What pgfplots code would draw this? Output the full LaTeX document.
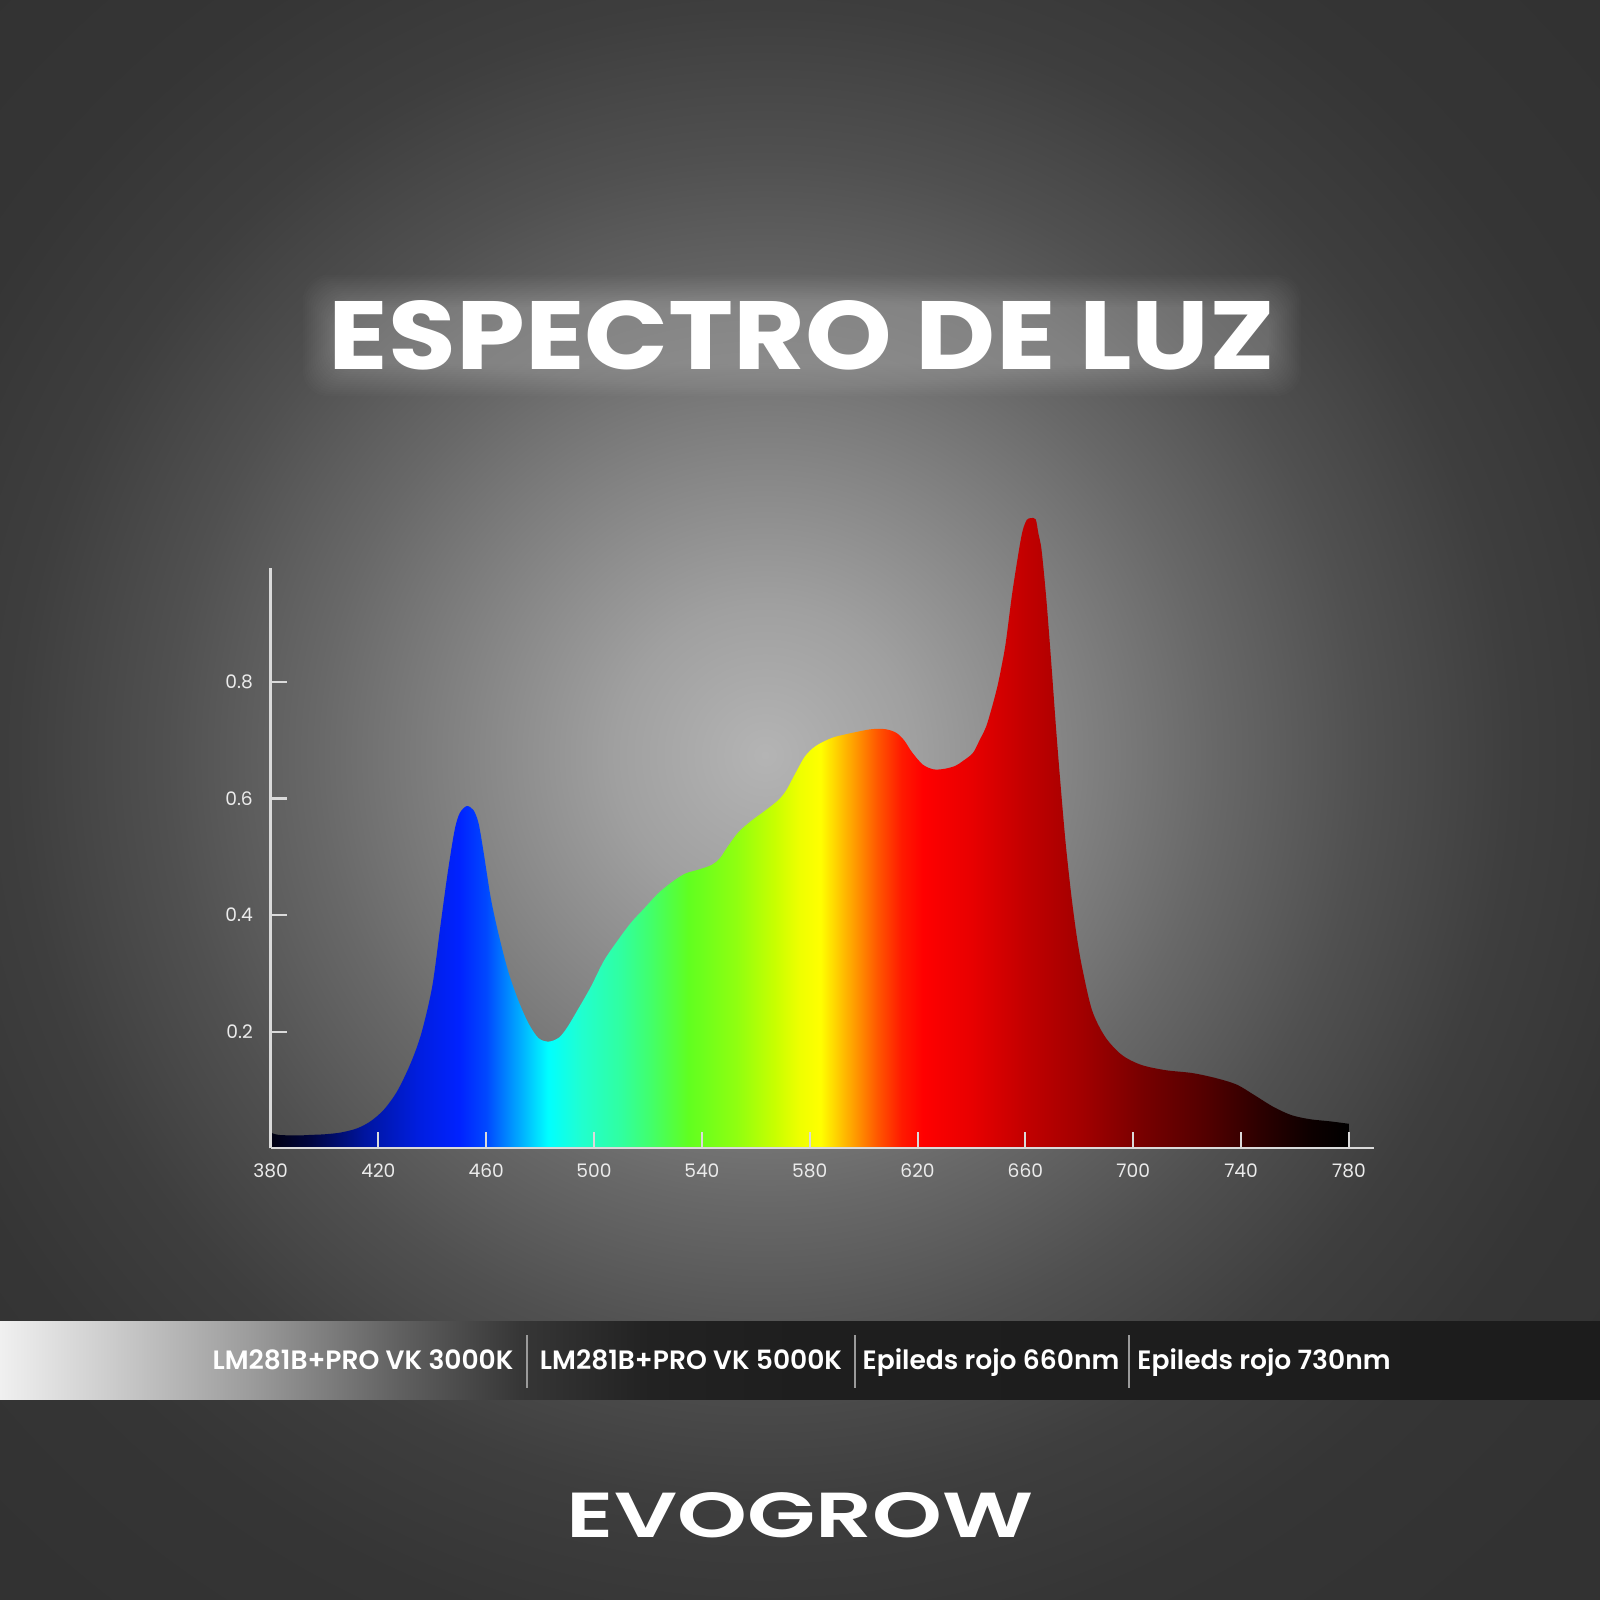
\documentclass[border=0pt]{standalone}
\usepackage{fontspec}
\usepackage{graphicx}
\usepackage{pgfplots}
\pgfplotsset{compat=1.18}
\setmainfont{Poppins}
\IfFontExistsTF{Poppins SemiBold}{\newfontfamily\semifont{Poppins SemiBold}}{\newfontfamily\semifont{Poppins}}
\newfontfamily\titlefont{Poppins Bold}
\IfFontExistsTF{Poppins SemiBold}{\newfontfamily\logofont{Poppins SemiBold}}{\newfontfamily\logofont{Poppins Bold}}

% background
\definecolor{bg0}{HTML}{B4B4B4}
\definecolor{bg1}{HTML}{A0A0A0}
\definecolor{bg2}{HTML}{848484}
\definecolor{bg3}{HTML}{686868}
\definecolor{bg4}{HTML}{505050}
\definecolor{bg5}{HTML}{3E3E3E}
\definecolor{bg6}{HTML}{353535}
\definecolor{bg7}{HTML}{323232}
\pgfdeclareradialshading{bgglow}{\pgfpoint{0bp}{0bp}}{color(0bp)=(bg0); color(3.4bp)=(bg1); color(6.8bp)=(bg2); color(10.2bp)=(bg3); color(13.6bp)=(bg4); color(17bp)=(bg5); color(20.5bp)=(bg6); color(25bp)=(bg7); color(50bp)=(bg7)}

% band under the chart
\definecolor{bd0}{HTML}{F0F0F0}
\definecolor{bd1}{HTML}{D0D0D0}
\definecolor{bd2}{HTML}{9C9C9C}
\definecolor{bd3}{HTML}{606060}
\definecolor{bd4}{HTML}{363636}
\definecolor{bd5}{HTML}{222222}
\definecolor{bd6}{HTML}{1E1E1E}
\definecolor{bd7}{HTML}{1C1C1C}
\pgfdeclarehorizontalshading{band}{100bp}{color(0bp)=(bd0); color(25bp)=(bd0); color(28.1bp)=(bd1); color(32.8bp)=(bd2); color(37.5bp)=(bd3); color(41.25bp)=(bd4); color(45.3bp)=(bd5); color(50bp)=(bd6); color(75bp)=(bd7); color(100bp)=(bd7)}
\definecolor{sepgray}{HTML}{9A9A9A}
\definecolor{axgray}{HTML}{DADADA}

% spectrum colours, position = 25 + (nm-380)/8 bp
\definecolor{s380}{HTML}{000010}
\definecolor{s395}{HTML}{000540}
\definecolor{s415}{HTML}{0015A0}
\definecolor{s435}{HTML}{001EE0}
\definecolor{s450}{HTML}{0022FF}
\definecolor{s460}{HTML}{0048FF}
\definecolor{s470}{HTML}{0098FF}
\definecolor{s478}{HTML}{00D8FF}
\definecolor{s483}{HTML}{00FFFF}
\definecolor{s495}{HTML}{20FFD0}
\definecolor{s510}{HTML}{30FFA0}
\definecolor{s520}{HTML}{40FF70}
\definecolor{s535}{HTML}{60FF20}
\definecolor{s553}{HTML}{90FF10}
\definecolor{s567}{HTML}{C8FF00}
\definecolor{s576}{HTML}{EEFF00}
\definecolor{s584}{HTML}{FFFF00}
\definecolor{s590}{HTML}{FFD000}
\definecolor{s598}{HTML}{FF9000}
\definecolor{s606}{HTML}{FF5000}
\definecolor{s614}{HTML}{FF1A00}
\definecolor{s622}{HTML}{FF0000}
\definecolor{s640}{HTML}{E80000}
\definecolor{s661}{HTML}{C00000}
\definecolor{s682}{HTML}{A00000}
\definecolor{s703}{HTML}{780000}
\definecolor{s727}{HTML}{520000}
\definecolor{s747}{HTML}{2C0000}
\definecolor{s765}{HTML}{0E0000}
\definecolor{s780}{HTML}{000000}
\pgfdeclarehorizontalshading{spectrum}{100bp}{color(0bp)=(s380); color(25bp)=(s380); color(26.875bp)=(s395); color(29.375bp)=(s415); color(31.875bp)=(s435); color(33.75bp)=(s450); color(35bp)=(s460); color(36.25bp)=(s470); color(37.25bp)=(s478); color(37.875bp)=(s483); color(39.375bp)=(s495); color(41.25bp)=(s510); color(42.5bp)=(s520); color(44.375bp)=(s535); color(46.625bp)=(s553); color(48.375bp)=(s567); color(49.5bp)=(s576); color(50.5bp)=(s584); color(51.25bp)=(s590); color(52.25bp)=(s598); color(53.25bp)=(s606); color(54.25bp)=(s614); color(55.25bp)=(s622); color(57.5bp)=(s640); color(60.125bp)=(s661); color(62.75bp)=(s682); color(65.375bp)=(s703); color(68.375bp)=(s727); color(70.875bp)=(s747); color(73.125bp)=(s765); color(75bp)=(s780); color(100bp)=(s780)}

\begin{document}
\begin{tikzpicture}
\useasboundingbox (0,0) rectangle (160mm,160mm);
\fill[bg7] (0,0) rectangle (160mm,160mm);
\begin{scope}
  \clip (0,0) rectangle (160mm,160mm);
  \shade[shading=bgglow] (76.5mm,84.5mm) circle (110mm);
\end{scope}

% soft glow behind the title
\foreach \d in {-0.6,-0.4,...,2.8}{
  \fill[white, opacity=0.016, rounded corners=2.5mm]
    ({32.9mm-\d mm},{123mm-\d mm}) rectangle ({127.5mm+\d mm},{129.9mm+\d mm});
}
\node[inner sep=0pt, anchor=base, text=white] at (80.2mm,123mm)
  {\resizebox{94.6mm}{6.9mm}{\titlefont ESPECTRO DE LUZ}};

\begin{axis}[
    at={(27.05mm,45.17mm)}, anchor=south west,
    scale only axis,
    width=110.35mm, height=58mm,
    xmin=380, xmax=789.3,
    ymin=0, ymax=0.995,
    axis lines=left,
    axis line style={-, draw=axgray, line width=0.6pt},
    axis on top,
    clip=false,
    xtick={380,420,...,780},
    ytick={0.2,0.4,0.6,0.8},
    tick align=inside,
    major tick length=1.6mm,
    tick style={draw=axgray, line width=0.6pt},
    /pgf/number format/assume math mode=true,
    tick label style={font=\fontsize{5.3}{6}\selectfont, text=white!92!black, inner sep=0pt},
    xticklabel style={anchor=center, yshift=-2.22mm},
    yticklabel style={anchor=east, xshift=-1.7mm},
]
\addplot[draw=none, shade, shading=spectrum, smooth, tension=0.5] coordinates {
  (380,0.027)(383,0.023)(390,0.022)(395,0.023)(400,0.024)(406,0.027)(412,0.034)
  (417,0.046)(422,0.066)(427,0.098)(432,0.146)(436,0.198)(440,0.278)(443,0.381)
  (445.7,0.472)(448.3,0.546)(450.2,0.575)(452.8,0.587)(455.3,0.580)(457.2,0.557)
  (459.1,0.506)(461.6,0.432)(464.2,0.375)(468,0.306)(471.8,0.255)(475.6,0.215)
  (479.4,0.189)(483.2,0.183)(487,0.190)(490,0.207)(494,0.238)(498.7,0.276)
  (503.7,0.322)(508.7,0.356)(513.7,0.387)(518.7,0.412)(523.7,0.437)(528.7,0.456)
  (533.7,0.471)(538.7,0.478)(543.6,0.486)(546.6,0.497)(549.5,0.517)(553.5,0.542)
  (558.4,0.562)(563.4,0.579)(568.3,0.597)(571.3,0.614)(574.2,0.639)(578.2,0.672)
  (582.2,0.690)(588.2,0.704)(593.2,0.710)(598.2,0.715)(603,0.719)(608,0.719)
  (612,0.713)(615,0.700)(618,0.679)(622,0.658)(626,0.650)(630,0.651)(634,0.656)
  (637,0.665)(640.5,0.678)(643,0.700)(645.4,0.723)(647.5,0.755)(649.6,0.792)
  (651.2,0.828)(652.7,0.867)(655.1,0.952)(657.6,1.026)(659,1.060)(660.5,1.078)
  (662,1.081)(663.8,1.079)(664.8,1.055)(666,1.026)(667.8,0.940)(669.7,0.826)
  (671.5,0.712)(673.3,0.609)(675,0.520)(677,0.435)(679,0.365)(681,0.311)
  (684.7,0.237)(689.6,0.191)(695.8,0.160)(703,0.143)(712,0.134)(722,0.129)
  (731,0.120)(738.5,0.109)(745,0.091)(752,0.071)(758.6,0.057)(765.4,0.050)
  (773.4,0.046)(780,0.042)
} \closedcycle;
\end{axis}

% lamp band
\shade[shading=band] (0,20mm) rectangle (160mm,27.8mm);
\foreach \x in {52.7,85.5,112.9}{
  \draw[sepgray, line width=0.35pt] (\x mm,21.2mm) -- (\x mm,26.5mm);
}
\begin{scope}[every node/.style={anchor=base, inner sep=0pt, text=white, font=\semifont\fontsize{7.55}{8}\selectfont}]
  \node at (36.3mm,23.0mm) {LM281B+PRO VK 3000K};
  \node at (69.1mm,23.0mm) {LM281B+PRO VK 5000K};
  \node at (99.1mm,23.0mm) {Epileds rojo 660nm};
  \node at (126.4mm,23.0mm) {Epileds rojo 730nm};
\end{scope}

% logo
\node[anchor=base, inner sep=0pt, text=white] at (80mm,6.23mm)
  {\resizebox{46.6mm}{4.5mm}{\logofont EVOGROW}};
\end{tikzpicture}
\end{document}
